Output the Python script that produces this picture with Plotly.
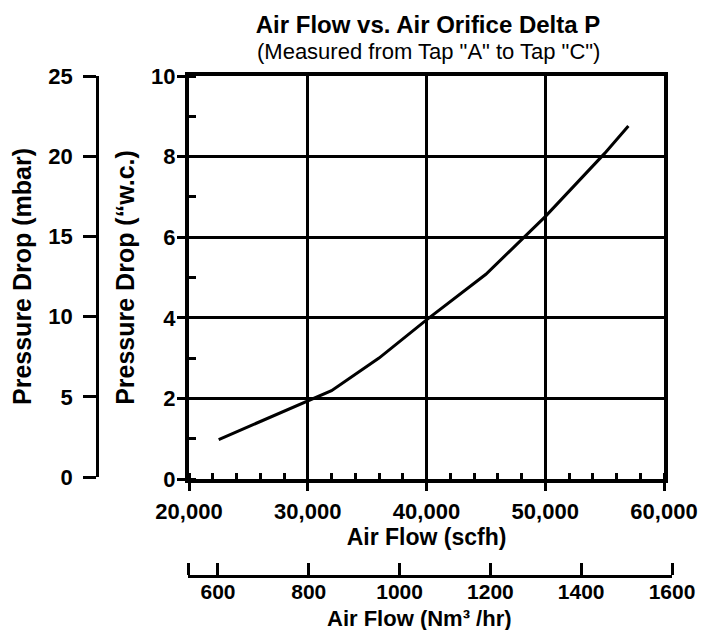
import plotly.graph_objects as go

# ---- data ----
air_flow_scfh = [22500, 32000, 36000, 40000, 45000, 50000, 55000, 57000]
pressure_drop_inwc = [0.98, 2.19, 3.0, 3.95, 5.08, 6.51, 8.08, 8.76]

scfh_ticks = [20000, 30000, 40000, 50000, 60000]
inwc_ticks = [0, 2, 4, 6, 8, 10]
mbar_ticks = [0, 5, 10, 15, 20, 25]
nm3_ticks = [600, 800, 1000, 1200, 1400, 1600]
nm3_range = [534, 1600]

title_text = "Air Flow vs. Air Orifice Delta P"
subtitle_text = '(Measured from Tap "A" to Tap "C")'
nm3_title = "Air Flow (Nm\u00b3 /hr)"

# ---- layout geometry (pixels) ----
W, H = 704, 630
ML, MR, MT, MB = 99, 32, 76, 54
PW = W - ML - MR
PH = H - MT - MB


def fx(p):
    return (p - ML) / PW


def fy(p):
    return (H - MB - p) / PH


FONT = "Arial, Liberation Sans, sans-serif"
TICKFONT = dict(family=FONT, size=22, color="black", weight="bold")
TICKFONT_SMALL = dict(family=FONT, size=21, color="black", weight="bold")
TITLEFONT_Y = dict(family=FONT, size=25, color="black")
TITLEFONT_X = dict(family=FONT, size=23, color="black")

fig = go.Figure()
fig.add_trace(go.Scatter(
    x=air_flow_scfh, y=pressure_drop_inwc, mode="lines",
    line=dict(color="black", width=3), showlegend=False, hoverinfo="skip",
))
# empty traces so that the secondary scales (Nm3/hr and mbar) are drawn
for xa, ya in (("x2", "y3"), ("x4", "y3"), ("x3", "y2")):
    fig.add_trace(go.Scatter(x=[], y=[], xaxis=xa, yaxis=ya, mode="lines",
                             showlegend=False, hoverinfo="skip"))

fig.update_layout(
    width=W, height=H,
    margin=dict(l=ML, r=MR, t=MT, b=MB, pad=0, autoexpand=False),
    paper_bgcolor="white", plot_bgcolor="rgba(0,0,0,0)",
    font=dict(family=FONT, color="black"),
    title=dict(
        text="<b>" + title_text + "</b>",
        font=dict(family=FONT, size=24, color="black"),
        x=fx(428), xref="paper", xanchor="center",
        y=1 - 25 / H, yref="container", yanchor="middle",
        automargin=False,
    ),
    annotations=[
        dict(
            text=subtitle_text, xref="paper", yref="paper",
            x=fx(428), y=fy(52), xanchor="center", yanchor="middle",
            showarrow=False, font=dict(family=FONT, size=22, color="black"),
        ),
        dict(
            text="<b>" + nm3_title + "</b>", xref="paper", yref="paper",
            x=fx(419), y=fy(618), xanchor="center", yanchor="middle",
            showarrow=False, font=dict(family=FONT, size=22, color="black"),
        ),
    ],
    xaxis=dict(
        domain=[fx(189), fx(664)],
        range=[scfh_ticks[0], scfh_ticks[-1]],
        tickvals=scfh_ticks, tickformat=",d",
        ticks="outside", ticklen=8, tickwidth=3, tickcolor="black",
        ticklabelstandoff=2,
        minor=dict(dtick=2000, ticks="inside", ticklen=6, tickwidth=2.5, tickcolor="black", showgrid=False),
        showgrid=True, gridcolor="black", gridwidth=3,
        showline=True, linecolor="black", linewidth=4, mirror=True,
        zeroline=False, automargin=False,
        tickfont=TICKFONT,
        title=dict(text="<b>Air Flow (scfh)</b>", font=TITLEFONT_X, standoff=1),
        anchor="y",
    ),
    yaxis=dict(
        domain=[fy(479), 1],
        range=[inwc_ticks[0], inwc_ticks[-1]],
        tickvals=inwc_ticks,
        ticks="outside", ticklen=8, tickwidth=3, tickcolor="black",
        ticklabelstandoff=-3,
        minor=dict(dtick=1, ticks="inside", ticklen=7, tickwidth=2.5, tickcolor="black", showgrid=False),
        showgrid=True, gridcolor="black", gridwidth=3,
        showline=True, linecolor="black", linewidth=4, mirror=True,
        zeroline=False, automargin=False,
        tickfont=TICKFONT,
        title=dict(text="<b>Pressure Drop (\u201cw.c.)</b>", font=TITLEFONT_Y, standoff=10),
        anchor="x",
    ),
    # Nm3/hr scale along the bottom edge: line + upward ticks ...
    xaxis2=dict(
        domain=[fx(188), 1],
        range=nm3_range,
        tickvals=[nm3_range[0]] + nm3_ticks,
        side="top", ticks="outside", ticklen=12, tickwidth=2.5, tickcolor="black",
        showticklabels=False,
        showgrid=False, zeroline=False, automargin=False,
        showline=True, linecolor="black", linewidth=2.5,
        anchor="free", position=0,
    ),
    # ... and its labels below the line
    xaxis4=dict(
        overlaying="x2",
        range=nm3_range,
        tickvals=nm3_ticks,
        side="bottom", ticks="", showline=False,
        ticklabelstandoff=1,
        showgrid=False, zeroline=False, automargin=False,
        tickfont=TICKFONT_SMALL,
        anchor="free", position=0,
    ),
    yaxis3=dict(domain=[0, 0.02], range=[0, 1], visible=False, anchor="x2"),
    # mbar scale along the left edge of the figure area
    yaxis2=dict(
        domain=[fy(477), 1],
        range=[mbar_ticks[0], mbar_ticks[-1]],
        tickvals=mbar_ticks,
        side="left", ticks="outside", ticklen=13, tickwidth=2.5, tickcolor="black",
        ticklabelstandoff=6,
        showgrid=False, zeroline=False, automargin=False,
        showline=True, linecolor="black", linewidth=2.5,
        tickfont=TICKFONT,
        title=dict(text="<b>Pressure Drop (mbar)</b>", font=TITLEFONT_Y, standoff=10),
        anchor="x3",
    ),
    xaxis3=dict(domain=[0, 0.02], range=[0, 1], visible=False, anchor="y2"),
)

fig.write_html(
    "out.html",
    config={"displayModeBar": False},
    post_script="document.body.style.margin='0px';",
)
